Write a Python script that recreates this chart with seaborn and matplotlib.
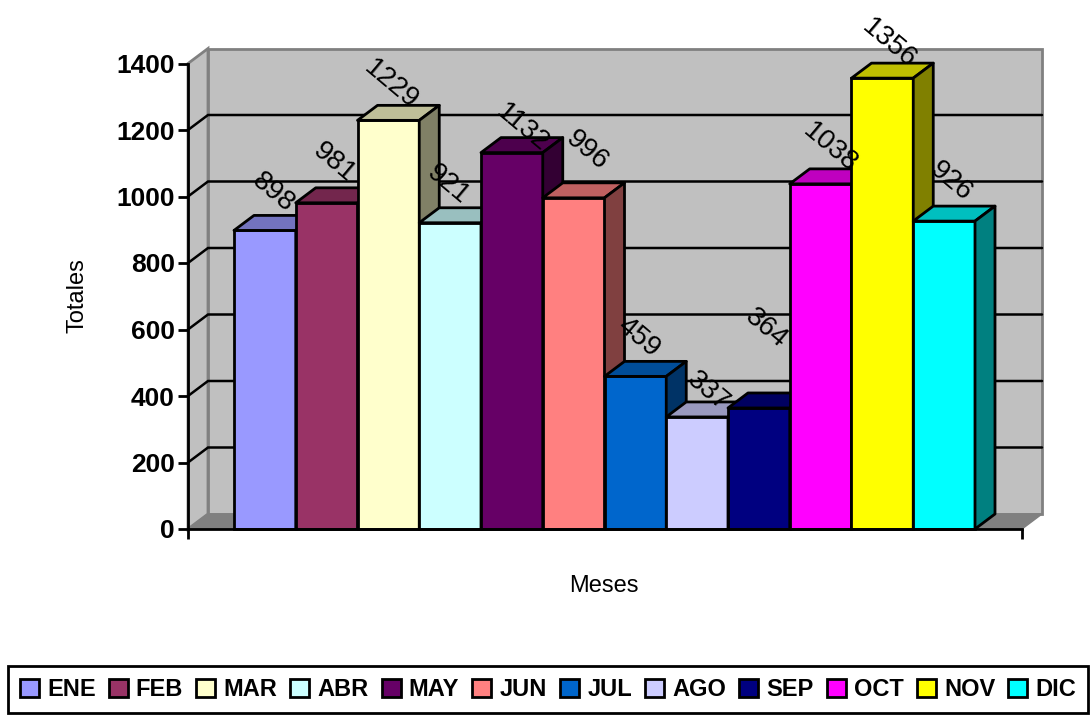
import matplotlib
matplotlib.use('Agg')
import matplotlib.pyplot as plt
import seaborn as sns
import pandas as pd
from matplotlib.colors import to_rgb

# Data
meses = ['ENE', 'FEB', 'MAR', 'ABR', 'MAY', 'JUN', 'JUL', 'AGO', 'SEP', 'OCT', 'NOV', 'DIC']
totales = [898, 981, 1229, 921, 1132, 996, 459, 337, 364, 1038, 1356, 926]
colores = ['#9999FF', '#993366', '#FFFFCC', '#CCFFFF', '#660066', '#FF8080',
           '#0066CC', '#CCCCFF', '#000080', '#FF00FF', '#FFFF00', '#00FFFF']
y_ticks = [0, 200, 400, 600, 800, 1000, 1200, 1400]

# Label nudges in pixels, from the top centre of each bar
label_dx = [8, 7, 3, -2, 10, 13, 3, 11, 7, 9, 7, 7]
label_dy = [38, 40, 36, 38, 25, 47, 39, 25, 79, 36, 35, 40]

W, H = 1091, 716
df = pd.DataFrame({'Meses': meses, 'Totales': totales})

sns.set_theme(style='white')
plt.rcParams['font.family'] = ['Liberation Sans', 'DejaVu Sans']

fig = plt.figure(figsize=(W / 100, H / 100), dpi=100)
ax = fig.add_axes([188 / W, 1 - 529 / H, (1022 - 188) / W, (529 - 63.5) / H])

sns.barplot(data=df, x='Meses', y='Totales', hue='Meses', palette=colores, width=1,
            dodge=False, edgecolor='black', linewidth=2, saturation=1, legend=True, ax=ax)

# Same scale as the picture: 61.75 px per month, 46 px of floor before the first bar
xmin = -0.5 - 46 / 61.75
xmax = xmin + (1022 - 188) / 61.75
ax.set_xlim(xmin, xmax)
ax.set_ylim(0, 1400)

# 3D depth in data units
dx = 20 / 61.75
dy = 15 / ((529 - 63.5) / 1400)

# Walls and floor
ax.fill([xmin, xmin + dx, xmin + dx, xmin], [0, dy, 1400 + dy, 1400], fc='#C0C0C0', ec='#808080',
        lw=2, clip_on=False, zorder=0)
ax.fill([xmin + dx, xmax + dx, xmax + dx, xmin + dx], [dy, dy, 1400 + dy, 1400 + dy], fc='#C0C0C0',
        ec='#808080', lw=2, clip_on=False, zorder=0)
ax.fill([xmin, xmax, xmax + dx, xmin + dx], [0, 0, dy, dy], fc='#808080', ec='#808080',
        lw=1, clip_on=False, zorder=0.5)

# Gridlines on both walls
for t in y_ticks[1:-1]:
    ax.plot([xmin, xmin + dx, xmax + dx], [t, t + dy, t + dy], color='black', lw=1.8,
            clip_on=False, zorder=1, solid_joinstyle='miter')

# Side and top faces of every bar, painted left to right
bars = ax.containers
for i, cont in enumerate(bars):
    for p in cont:
        if p.get_height() == 0 or p.get_height() != p.get_height():
            continue
        x0, x1, h = p.get_x(), p.get_x() + p.get_width(), p.get_height()
        p.set_zorder(3 + i)
        p.set_clip_on(False)
        rgb = to_rgb(colores[i])
        top = tuple(c * 0.75 for c in rgb)
        side = tuple(c * 0.5 for c in rgb)
        ax.fill([x0, x1, x1 + dx, x0 + dx], [h, h, h + dy, h + dy], fc=top, ec='black', lw=2,
                clip_on=False, zorder=3 + i, joinstyle='round')
        ax.fill([x1, x1 + dx, x1 + dx, x1], [0, dy, h + dy, h], fc=side, ec='black', lw=2,
                clip_on=False, zorder=3 + i, joinstyle='round')
        # value label
        ax.annotate(str(totales[i]), xy=((x0 + x1) / 2, h), xytext=(label_dx[i] * 0.72, label_dy[i] * 0.72),
                    textcoords='offset points', ha='center', va='center', rotation=-40,
                    rotation_mode='anchor', fontsize=20, color='black', zorder=40,
                    annotation_clip=False)

# Axes
sns.despine(ax=ax, top=True, right=True)
for s in ['left', 'bottom']:
    ax.spines[s].set_color('black')
    ax.spines[s].set_linewidth(2)
    ax.spines[s].set_zorder(30)
ax.set_yticks(y_ticks)
ax.set_yticklabels([str(t) for t in y_ticks], fontsize=19, fontweight='bold', color='black')
ax.set_xticks([xmin, xmax], ['', ''])
ax.tick_params(axis='both', length=7, width=2, color='black', direction='out', left=True, bottom=True, pad=2.5)
ax.set_xlabel('')
ax.set_ylabel('')
fig.text(604 / W, 1 - 586 / H, 'Meses', fontsize=17, color='black', ha='center', va='center')
fig.text(78 / W, 1 - 296 / H, 'Totales', fontsize=17, color='black', ha='center', va='center', rotation=90)

# Legend
sns.move_legend(ax, loc='center', bbox_to_anchor=(8 / W, 1 - 715 / H, 1080 / W, 51 / H),
                bbox_transform=fig.transFigure, mode='expand', ncol=12, title=None, frameon=True,
                fancybox=False, edgecolor='black', framealpha=1,
                prop={'weight': 'bold', 'size': 17}, handlelength=0.8, handleheight=0.8,
                handletextpad=0.35, columnspacing=0.4, borderpad=0.5, borderaxespad=0)
leg = ax.get_legend()
leg.get_frame().set_linewidth(2)
leg.set_zorder(50)
for t in leg.get_texts():
    t.set_color('black')
for hd in leg.legend_handles:
    hd.set_linewidth(2)

fig.savefig('out.png', dpi=100)
